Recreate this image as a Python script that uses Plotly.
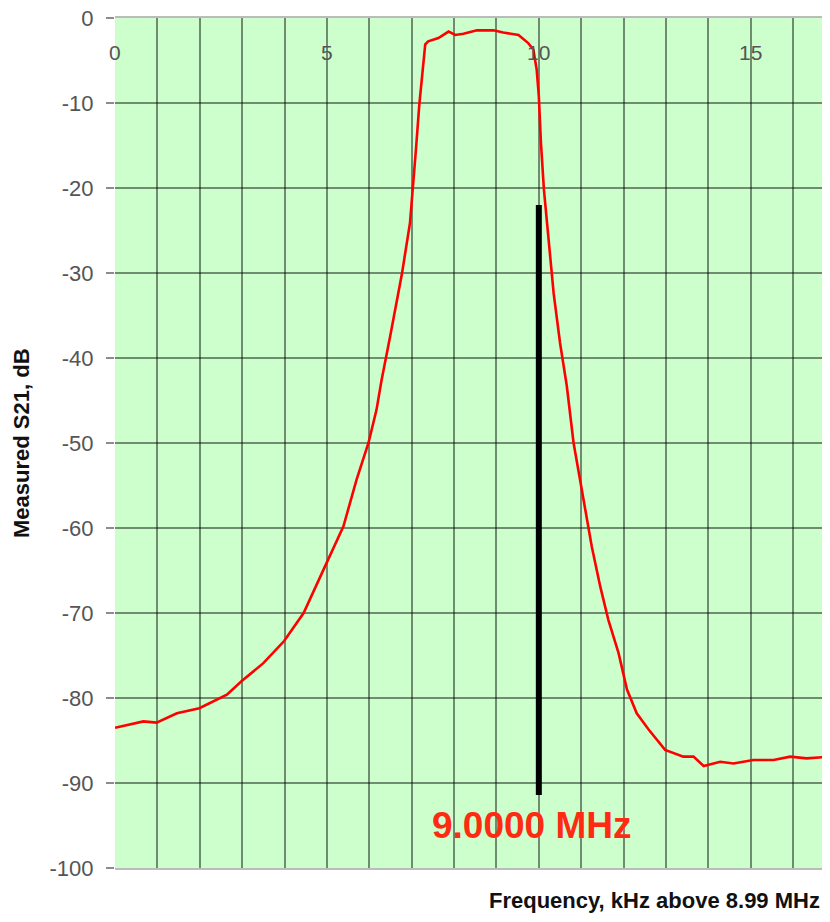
import plotly.graph_objects as go

# Measured filter response (kHz above 8.99 MHz, dB)
freq_khz = [0, 0.67, 0.98, 1.46, 1.99, 2.64, 2.99, 3.50, 3.99, 4.45, 4.92, 5.39, 5.70,
            5.98, 6.17, 6.29, 6.49, 6.77, 6.96, 7.03, 7.10, 7.18, 7.24, 7.32, 7.39, 7.63,
            7.87, 8.03, 8.22, 8.54, 8.93, 9.16, 9.52, 9.75, 9.87, 9.95, 10.0, 10.05, 10.12,
            10.23, 10.35, 10.50, 10.66, 10.82, 11.05, 11.25, 11.45, 11.64, 11.88, 12.08,
            12.31, 12.59, 12.98, 13.41, 13.65, 13.89, 14.28, 14.59, 15.06, 15.54, 15.93,
            16.32, 16.87]
s21_db = [-83.5, -82.75, -82.9, -81.8, -81.2, -79.6, -78.0, -75.9, -73.3, -70.0, -64.9,
          -59.8, -54.3, -50.0, -46.1, -42.6, -37.5, -30.1, -24.1, -20.2, -15.5, -10.2, -6.9,
          -3.1, -2.75, -2.35, -1.6, -2.0, -1.85, -1.45, -1.45, -1.7, -2.0, -2.95, -3.7,
          -6.1, -9.2, -14.7, -20.2, -26.5, -32.4, -38.2, -43.3, -50.0, -56.3, -62.2, -66.9,
          -70.8, -74.7, -79.0, -81.8, -83.7, -86.1, -86.9, -86.9, -88.0, -87.5, -87.7,
          -87.3, -87.3, -86.9, -87.1, -86.9]

# Marker at 9.0000 MHz
marker_x = [10, 10]
marker_y = [-22.0, -91.4]
marker_label = "9.0000 MHz"
marker_label_x = 9.83
marker_label_y = -95.0

x_tick_labels = [0, 5, 10, 15]
x_tick_label_y = -4.1
y_tick_vals = [0, -10, -20, -30, -40, -50, -60, -70, -80, -90, -100]
y_tick_text = ["0", "-10", "-20", "-30", "-40", "-50", "-60", "-70", "-80", "-90", "-100"]

FONT = "Arial, 'Liberation Sans', sans-serif"

fig = go.Figure()
fig.add_trace(go.Scatter(x=freq_khz, y=s21_db, mode="lines",
                         line=dict(color="#FF0000", width=2.6), showlegend=False,
                         hoverinfo="skip"))
fig.add_trace(go.Scatter(x=marker_x, y=marker_y, mode="lines",
                         line=dict(color="#000000", width=6), showlegend=False,
                         hoverinfo="skip"))

annotations = []
for v in x_tick_labels:
    annotations.append(dict(x=v, y=x_tick_label_y, xref="x", yref="y", text=str(v),
                            showarrow=False, xanchor="center", yanchor="middle",
                            font=dict(family=FONT, size=21, color="#555555")))
annotations.append(dict(x=marker_label_x, y=marker_label_y, xref="x", yref="y",
                        text="<b>" + marker_label + "</b>", showarrow=False,
                        xanchor="center", yanchor="middle",
                        font=dict(family=FONT, size=37, color="#FF2A12")))
annotations.append(dict(x=0.989, y=-0.038, xref="paper", yref="paper",
                        text="<b>Frequency, kHz above 8.99 MHz</b>", showarrow=False,
                        xanchor="right", yanchor="middle",
                        font=dict(family=FONT, size=22, color="#111111")))
annotations.append(dict(x=-0.1315, y=0.5, xref="paper", yref="paper",
                        text="<b>Measured S21, dB</b>", showarrow=False, textangle=-90,
                        xanchor="center", yanchor="middle",
                        font=dict(family=FONT, size=22, color="#111111")))

# page body has an 8px margin, so the figure is offset and sized to fit the window
fig.update_layout(
    width=822, height=906,
    margin=dict(l=107, r=0, t=10, b=46, autoexpand=False),
    paper_bgcolor="white",
    plot_bgcolor="#CCFFCC",
    annotations=annotations,
    font=dict(family=FONT),
)
fig.update_xaxes(range=[0, 16.87], tick0=0, dtick=1, showticklabels=False,
                 showgrid=True, gridcolor="rgba(0,0,0,0.45)", gridwidth=1.5,
                 zeroline=False, showline=True, mirror=True, linecolor="#BBBBBB",
                 linewidth=2, ticks="")
fig.update_yaxes(range=[-100, 0], tickvals=y_tick_vals, ticktext=y_tick_text,
                 showgrid=True, gridcolor="rgba(0,0,0,0.45)", gridwidth=1.5,
                 zeroline=False, ticks="outside", ticklen=8, tickwidth=1.5,
                 tickcolor="rgba(0,0,0,0.45)", ticklabelstandoff=8,
                 ticklabeloverflow="allow",
                 tickfont=dict(family=FONT, size=22, color="#555555"))

fig.write_html("out.html")
